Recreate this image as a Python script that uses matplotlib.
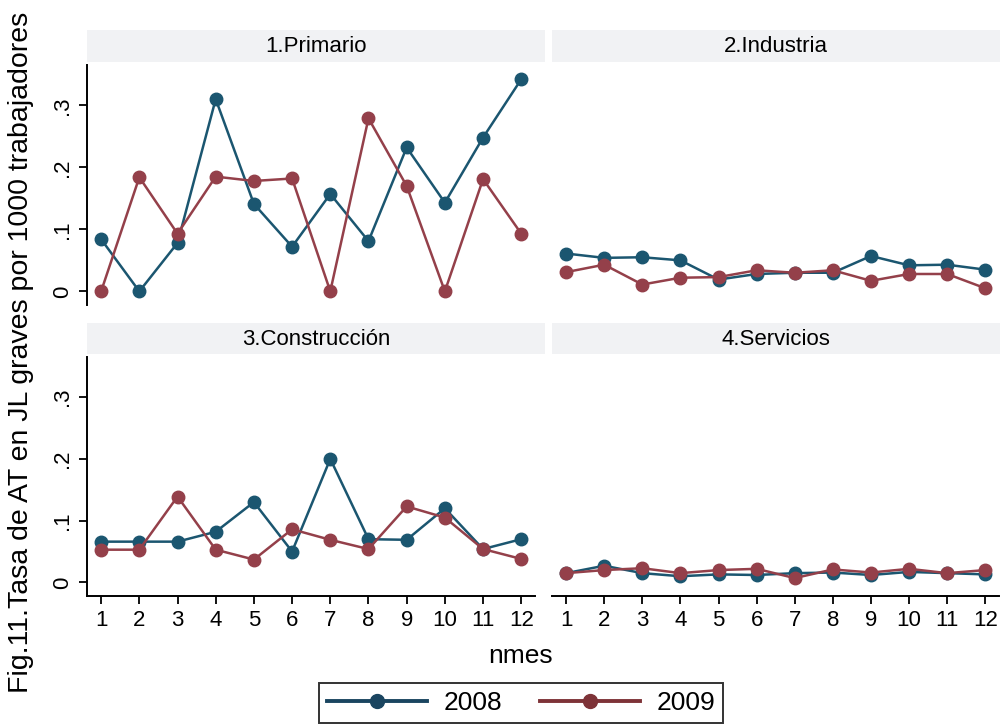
import matplotlib.pyplot as plt
import matplotlib.patches as patches
import matplotlib as mpl

mpl.rcParams['font.family'] = ['Liberation Sans', 'DejaVu Sans']

meses = list(range(1, 13))
sectores = ["1.Primario", "2.Industria", "3.Construcción", "4.Servicios"]

primario_2008 = [0.084, 0.0, 0.078, 0.310, 0.141, 0.072, 0.157, 0.081, 0.232, 0.143, 0.248, 0.342]
primario_2009 = [0.0, 0.184, 0.093, 0.185, 0.178, 0.182, 0.0, 0.279, 0.170, 0.0, 0.181, 0.093]
industria_2008 = [0.061, 0.054, 0.055, 0.050, 0.019, 0.028, 0.030, 0.030, 0.057, 0.042, 0.043, 0.035]
industria_2009 = [0.031, 0.043, 0.011, 0.022, 0.023, 0.034, 0.030, 0.034, 0.017, 0.028, 0.028, 0.005]
construccion_2008 = [0.066, 0.066, 0.066, 0.082, 0.130, 0.050, 0.200, 0.070, 0.069, 0.120, 0.054, 0.070]
construccion_2009 = [0.053, 0.053, 0.139, 0.053, 0.037, 0.086, 0.069, 0.054, 0.123, 0.105, 0.054, 0.038]
servicios_2008 = [0.015, 0.027, 0.015, 0.010, 0.013, 0.012, 0.015, 0.016, 0.012, 0.017, 0.015, 0.013]
servicios_2009 = [0.015, 0.020, 0.023, 0.015, 0.020, 0.022, 0.007, 0.021, 0.016, 0.022, 0.015, 0.020]

series_2008 = [primario_2008, industria_2008, construccion_2008, servicios_2008]
series_2009 = [primario_2009, industria_2009, construccion_2009, servicios_2009]

yticks = [0, 0.1, 0.2, 0.3]
ytick_labels = ["0", ".1", ".2", ".3"]

c2008 = '#1b5670'
c2009 = '#94404a'

W, H = 1002, 728
fig = plt.figure(figsize=(W / 100, H / 100), dpi=100)


def fbox(x0, y0, x1, y1):
    # pixel box (top-left origin) -> figure fraction
    return [x0 / W, 1 - y1 / H, (x1 - x0) / W, (y1 - y0) / H]


panels = [
    (87, 65, 535, 305),
    (552, 65, 999, 305),
    (87, 357, 535, 596),
    (552, 357, 999, 596),
]
strips = [
    (87, 30, 545, 62),
    (552, 30, 1000, 62),
    (87, 323, 545, 354),
    (552, 323, 1000, 354),
]

for i, (box, strip) in enumerate(zip(panels, strips)):
    sx0, sy0, sx1, sy1 = strip
    fig.patches.append(patches.Rectangle((sx0 / W, 1 - sy1 / H), (sx1 - sx0) / W, (sy1 - sy0) / H,
                                         transform=fig.transFigure, facecolor='#f1f2f4',
                                         edgecolor='none', zorder=0))
    fig.text((sx0 + sx1) / 2 / W, 1 - (sy0 + sy1 + 2) / 2 / H, sectores[i],
             ha='center', va='center', fontsize=16)

    ax = fig.add_axes(fbox(*box))
    ax.set_facecolor('none')
    ax.plot(meses, series_2008[i], color=c2008, lw=1.8, marker='o', ms=9, zorder=3)
    ax.plot(meses, series_2009[i], color=c2009, lw=1.8, marker='o', ms=9, zorder=4)
    ax.set_xlim(0.63, 12.36)
    ax.set_ylim(-0.022, 0.365)
    for s in ['top', 'right']:
        ax.spines[s].set_visible(False)
    ax.spines['left'].set_linewidth(1.4)
    ax.spines['bottom'].set_linewidth(1.4)

    if i in (0, 2):
        ax.set_yticks(yticks)
        ax.set_yticklabels(ytick_labels, rotation=90, va='center', fontsize=16)
        ax.tick_params(axis='y', length=6, width=1.3, pad=4)
    else:
        ax.spines['left'].set_visible(False)
        ax.set_yticks([])

    if i in (2, 3):
        ax.set_xticks(meses)
        ax.set_xticklabels([str(m) for m in meses], fontsize=16)
        ax.tick_params(axis='x', length=6, width=1.3, pad=4)
    else:
        ax.spines['bottom'].set_visible(False)
        ax.set_xticks([])

fig.text(21 / W, 1 - 352 / H, "Fig.11.Tasa de AT en JL graves por 1000 trabajadores",
         rotation=90, ha='center', va='center', fontsize=20.5)
fig.text(521 / W, 1 - 656 / H, "nmes", ha='center', va='center', fontsize=19)

h1, = fig.axes[0].plot([], [], color='#1a4560', lw=2.8, marker='o', ms=10)
h2, = fig.axes[0].plot([], [], color='#7e3338', lw=2.8, marker='o', ms=10)
leg = fig.legend([h1, h2], ["2008", "2009"], loc='center', bbox_to_anchor=(521 / W, 1 - 703 / H),
                 ncol=2, fontsize=19, frameon=True, fancybox=False, edgecolor='black',
                 handlelength=3.8, columnspacing=1.45, handletextpad=0.6, borderpad=0.3,
                 borderaxespad=0)
leg.get_frame().set_linewidth(1.4)

fig.savefig('out.png', dpi=100)
